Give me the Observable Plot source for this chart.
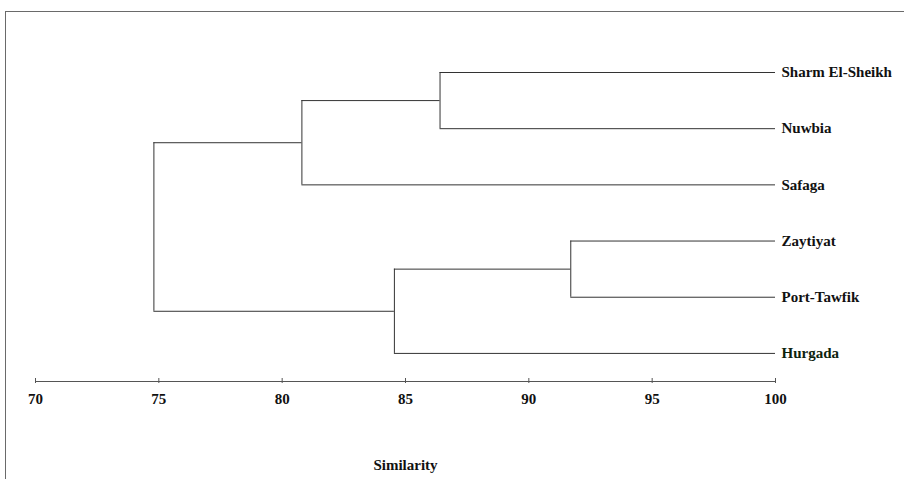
<!DOCTYPE html>
<html>
<head>
<meta charset="utf-8">
<script src="https://cdn.jsdelivr.net/npm/d3@7"></script>
<script src="https://cdn.jsdelivr.net/npm/@observablehq/plot@0.6"></script>
<style>
  html, body { margin: 0; padding: 0; background: #fff; }
  #wrap { position: relative; width: 904px; height: 479px; overflow: hidden; }
  #frame { position: absolute; left: 5px; top: 11px; width: 905px; height: 480px;
           border-left: 1.5px solid #6a6a6a; border-top: 1.5px solid #6a6a6a; pointer-events: none; }
  svg { display: block; }
</style>
</head>
<body>
<div id="wrap"><div id="frame"></div></div>
<script>
// Leaf order (top to bottom)
const leaves = ["Sharm El-Sheikh", "Nuwbia", "Safaga", "Zaytiyat", "Port-Tawfik", "Hurgada"];
// Merge steps: [child A, child B, similarity at which they join]
const mergeA   = ["Sharm El-Sheikh", "Zaytiyat",    "n0",     "n1",      "n2"];
const mergeB   = ["Nuwbia",          "Port-Tawfik", "Safaga", "Hurgada", "n3"];
const mergeSim = [86.4,              91.7,          80.8,     84.55,     74.8];
const tickValues = [70, 75, 80, 85, 90, 95, 100];
const xLabel = "Similarity";
const leafSim = 100;

// Build node positions
const pos = new Map(leaves.map((d, i) => [d, {y: i, x: leafSim}]));
const vSegs = [], hSegs = [];
mergeSim.forEach((s, i) => {
  const a = pos.get(mergeA[i]), b = pos.get(mergeB[i]);
  vSegs.push({x: s, y1: a.y, y2: b.y});
  hSegs.push({x1: s, x2: a.x, y: a.y});
  hSegs.push({x1: s, x2: b.x, y: b.y});
  pos.set("n" + i, {x: s, y: (a.y + b.y) / 2});
});
const leafData = leaves.map((d, i) => ({name: d, y: i}));

const chart = Plot.plot({
  width: 904,
  height: 479,
  marginLeft: 35,
  marginRight: 129,
  marginTop: 72,
  marginBottom: 98,
  style: {fontFamily: "'Liberation Serif', 'Times New Roman', serif", fontWeight: "bold", fontSize: "15px", color: "#111", background: "transparent"},
  x: {domain: [70, 100]},
  y: {domain: [0, 5.5], reverse: true, axis: null},
  marks: [
    Plot.ruleX(vSegs, {x: "x", y1: "y1", y2: "y2", stroke: "#333", strokeWidth: 1}),
    Plot.ruleY(hSegs, {y: "y", x1: "x1", x2: "x2", stroke: "#333", strokeWidth: 1}),
    Plot.ruleY([5.5], {x1: 70, x2: 100, stroke: "#555", strokeWidth: 1.2}),
    Plot.axisX({ticks: tickValues, tickSize: 5, dy: -3, text: null, stroke: "#555", label: null}),
    Plot.axisX({ticks: tickValues, tickSize: 0, tickPadding: 12, fill: "#111", fontSize: 15, fontWeight: "bold",
                label: xLabel, labelAnchor: "center", labelArrow: "none", labelOffset: 88}),
    Plot.text(leafData, {x: leafSim, y: "y", text: "name", dx: 6, textAnchor: "start",
                         fill: (d) => d.name === "Hurgada" ? "#0d230d" : "#111", fontSize: 15, fontWeight: "bold"})
  ]
});
document.getElementById("wrap").prepend(chart);
</script>
</body>
</html>
